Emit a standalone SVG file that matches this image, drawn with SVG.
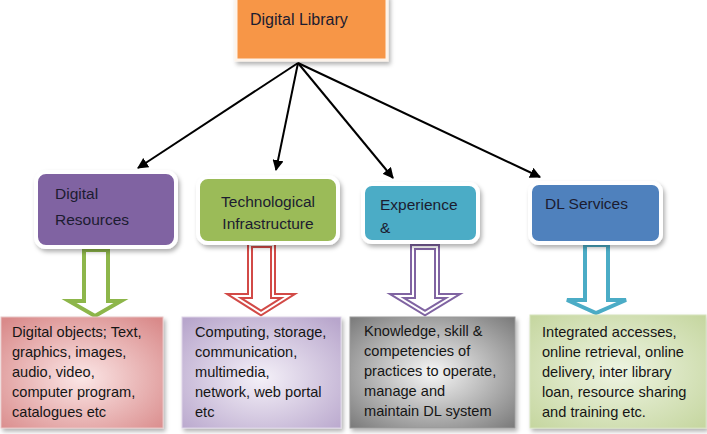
<svg xmlns="http://www.w3.org/2000/svg" width="707" height="434" viewBox="0 0 707 434">
<defs>
<style>
.t{font-family:"Liberation Sans",Arial,sans-serif;font-size:15.5px;fill:#1c1c30}
.b{font-family:"Liberation Sans",Arial,sans-serif;font-size:14.6px;fill:#151515}
.hd{stroke:#ffffff;stroke-width:4}
.conn{stroke:#000;stroke-width:2;fill:none;marker-end:url(#ah)}
</style>
<marker id="ah" viewBox="0 0 10 10" refX="9" refY="5" markerWidth="5.5" markerHeight="5.5" orient="auto" markerUnits="strokeWidth">
<path d="M0,0 L10,5 L0,10 z" fill="#000"/>
</marker>
<filter id="sh" x="-10%" y="-10%" width="125%" height="130%">
<feDropShadow dx="2" dy="3" stdDeviation="2" flood-color="#000" flood-opacity="0.3"/>
</filter>
<radialGradient id="gPink" cx="50%" cy="55%" r="70%">
<stop offset="0" stop-color="#fbe6e6"/><stop offset="1" stop-color="#d98a8a"/>
</radialGradient>
<radialGradient id="gPurp" cx="50%" cy="55%" r="70%">
<stop offset="0" stop-color="#f4f0f8"/><stop offset="1" stop-color="#b8a6cc"/>
</radialGradient>
<radialGradient id="gGray" cx="50%" cy="50%" r="70%">
<stop offset="0" stop-color="#f6f6f6"/><stop offset="1" stop-color="#7a7a7a"/>
</radialGradient>
<radialGradient id="gGreen" cx="50%" cy="50%" r="70%">
<stop offset="0" stop-color="#eef4e2"/><stop offset="1" stop-color="#c5d69f"/>
</radialGradient>
</defs>
<rect width="707" height="434" fill="#ffffff"/>

<g id="digital-library">
<rect x="236" y="-4" width="151" height="64" fill="#f79646" stroke="#fdf3ea" stroke-width="3" filter="url(#sh)"/>
<text class="t" x="250" y="25" style="font-size:16px">Digital Library</text>
</g>

<g id="connectors">
<line class="conn" x1="298" y1="63" x2="138" y2="168"/>
<line class="conn" x1="298" y1="63" x2="276" y2="170"/>
<line class="conn" x1="298" y1="63" x2="393" y2="178"/>
<line class="conn" x1="298" y1="63" x2="540" y2="177"/>
<path d="M84,250 H108 V301 H121 L95,316 L69,301 H84 Z" fill="#fff" stroke="#8db64a" stroke-width="4" stroke-linejoin="miter"/>
<g stroke-linejoin="miter">
<path d="M250,245 H273 V296 H288 L261,313 L234,296 H250 Z" fill="#fff" stroke="#d24a47" stroke-width="6"/>
<path d="M250,245 H273 V296 H288 L261,313 L234,296 H250 Z" fill="none" stroke="#fff" stroke-width="2"/>
<path d="M413,247 H437 V296 H453 L425,313 L397,296 H413 Z" fill="#fff" stroke="#8064a2" stroke-width="6"/>
<path d="M413,247 H437 V296 H453 L425,313 L397,296 H413 Z" fill="none" stroke="#fff" stroke-width="2"/>
</g>
<path d="M585,245 H608 V300 H626 L596,313 L567,300 H585 Z" fill="#fff" stroke="#4bacc6" stroke-width="4" stroke-linejoin="miter"/>
</g>

<g id="digital-resources">
<rect x="36" y="172" width="140" height="75" rx="10" fill="#8064a2" class="hd" filter="url(#sh)"/>
<text class="t" x="55" y="199">Digital</text>
<text class="t" x="55" y="225">Resources</text>
</g>
<g id="technological-infrastructure">
<rect x="198" y="177" width="140" height="66" rx="10" fill="#9bbb59" class="hd" filter="url(#sh)"/>
<text class="t" x="268" y="207" text-anchor="middle">Technological</text>
<text class="t" x="268" y="229" text-anchor="middle">Infrastructure</text>
</g>
<g id="experience">
<rect x="363" y="184" width="115" height="58" rx="9" fill="#4bacc6" class="hd" filter="url(#sh)"/>
<text class="t" x="380" y="210">Experience</text>
<text class="t" x="380" y="233">&amp;</text>
</g>
<g id="dl-services">
<rect x="530" y="183" width="131" height="60" rx="9" fill="#4f81bd" class="hd" filter="url(#sh)"/>
<text class="t" x="545" y="209">DL Services</text>
</g>

<g id="digital-objects">
<rect x="1" y="317" width="162" height="111" fill="url(#gPink)" stroke="#e8c4c4" stroke-width="1" filter="url(#sh)"/>
<text class="b" x="12" y="337">Digital objects; Text,</text>
<text class="b" x="12" y="357">graphics, images,</text>
<text class="b" x="12" y="377">audio, video,</text>
<text class="b" x="12" y="397">computer program,</text>
<text class="b" x="12" y="417">catalogues etc</text>
</g>
<g id="computing">
<rect x="182" y="317" width="159" height="111" fill="url(#gPurp)" stroke="#ddd4e8" stroke-width="1" filter="url(#sh)"/>
<text class="b" x="195" y="337">Computing, storage,</text>
<text class="b" x="195" y="357">communication,</text>
<text class="b" x="195" y="377">multimedia,</text>
<text class="b" x="195" y="397">network, web portal</text>
<text class="b" x="195" y="417">etc</text>
</g>
<g id="knowledge">
<rect x="350" y="317" width="165" height="111" fill="url(#gGray)" stroke="#9a9a9a" stroke-width="1" filter="url(#sh)"/>
<text class="b" x="364" y="336">Knowledge, skill &amp;</text>
<text class="b" x="364" y="356">competencies of</text>
<text class="b" x="364" y="376">practices to operate,</text>
<text class="b" x="364" y="396">manage and</text>
<text class="b" x="364" y="416">maintain DL system</text>
</g>
<g id="integrated-access">
<rect x="530" y="315" width="176" height="113" fill="url(#gGreen)" stroke="#d6e3bc" stroke-width="1" filter="url(#sh)"/>
<text class="b" x="542" y="337">Integrated accesses,</text>
<text class="b" x="542" y="357">online retrieval, online</text>
<text class="b" x="542" y="377">delivery, inter library</text>
<text class="b" x="542" y="397">loan, resource sharing</text>
<text class="b" x="542" y="417">and training etc.</text>
</g>
</svg>
